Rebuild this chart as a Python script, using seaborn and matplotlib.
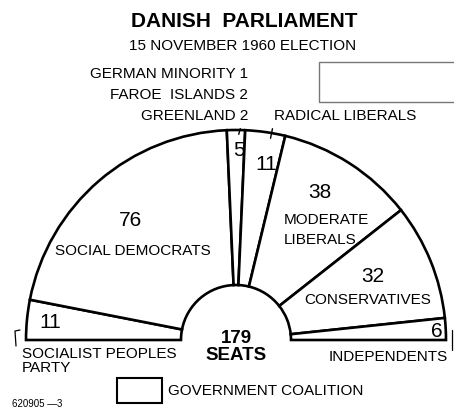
import matplotlib
matplotlib.use("Agg")
import matplotlib.pyplot as plt
from matplotlib.patches import Rectangle
import seaborn as sns

# seats, left to right around the half circle
small_parties = ["GERMAN MINORITY", "FAROE  ISLANDS", "GREENLAND"]
small_seats = [1, 2, 2]
parties = ["SOCIALIST PEOPLES\nPARTY", "SOCIAL DEMOCRATS", "SMALL", "RADICAL LIBERALS",
           "MODERATE\nLIBERALS", "CONSERVATIVES", "INDEPENDENTS"]
seats = [11, 76, sum(small_seats), 11, 38, 32, 6]
total = sum(seats)

sns.set_theme(style="white")
plt.rcParams['font.family'] = ['Liberation Sans', 'DejaVu Sans']

W, H = 454, 411
fig = plt.figure(figsize=(W / 100, H / 100), dpi=100)
ax = fig.add_axes([0, 0, 1, 1])


def Y(py):
    return H - py


# half pie: the last (invisible) wedge fills the lower half
wedges, _ = ax.pie(seats + [total], center=(236, Y(340)), radius=210, startangle=180,
                   counterclock=False, colors=["white"] * len(seats) + ["white"],
                   wedgeprops=dict(width=155, edgecolor="black", linewidth=1.9))
wedges[-1].set_visible(False)

ax.set_xlim(0, W)
ax.set_ylim(0, H)
ax.set_aspect("auto")
ax.axis("off")

txt = dict(color="black", ha="center", va="center")

ax.text(244, Y(22), "DANISH  PARLIAMENT", fontsize=15, fontweight="bold", **txt)
ax.text(243, Y(46), "15 NOVEMBER 1960 ELECTION", fontsize=11, **txt)

# small parties
for i, (name, n) in enumerate(zip(small_parties, small_seats)):
    ax.text(248, Y(74 + 21 * i), f"{name} {n}", fontsize=11, color="black",
            ha="right", va="center")
ax.text(274, Y(116), parties[3], fontsize=11, color="black", ha="left", va="center")
ax.annotate("", xy=(238, Y(137)), xytext=(241, Y(126)),
            arrowprops=dict(arrowstyle="-", color="black", lw=1))
ax.annotate("", xy=(270, Y(141)), xytext=(273, Y(126)),
            arrowprops=dict(arrowstyle="-", color="black", lw=1))

num = dict(fontsize=15, **txt)
lab = dict(fontsize=11, **txt)
ax.text(239, Y(150), str(seats[2]), **num)
ax.text(266, Y(164), str(seats[3]), **num)
ax.text(131, Y(220), str(seats[1]), **num)
ax.text(133, Y(251), parties[1], **lab)
ax.text(320, Y(193), str(seats[4]), **num)
ax.text(284, Y(230), parties[4], fontsize=11, color="black", ha="left", va="center",
        linespacing=1.5)
ax.text(373, Y(277), str(seats[5]), **num)
ax.text(368, Y(300), parties[5], **lab)
ax.text(50, Y(322), str(seats[0]), **num)
ax.text(22, Y(361), parties[0], fontsize=11, color="black", ha="left", va="center",
        linespacing=1.0)
ax.text(437, Y(331), str(seats[6]), **num)
ax.text(448, Y(357), parties[6], fontsize=11, color="black", ha="right", va="center")

ax.text(236, Y(347), f"{total}\nSEATS", fontsize=13.5, fontweight="bold",
        linespacing=0.95, **txt)

# legend box
ax.add_patch(Rectangle((117, Y(403)), 45, 25, facecolor="white", edgecolor="black", lw=1.5))
ax.text(168, Y(391), "GOVERNMENT COALITION", fontsize=11, color="black",
        ha="left", va="center")
ax.add_patch(Rectangle((319, Y(102)), 140, 40, facecolor="white", edgecolor="#777777", lw=1))

# small corner marks
ax.plot([16, 15, 20], [Y(346), Y(331), Y(330)], color="black", lw=0.9)
ax.plot([452, 452], [Y(330), Y(350)], color="black", lw=0.9)

ax.text(12, Y(404), "620905 \u20143", fontsize=7, color="black", ha="left", va="center")

fig.savefig("out.png", dpi=100)
